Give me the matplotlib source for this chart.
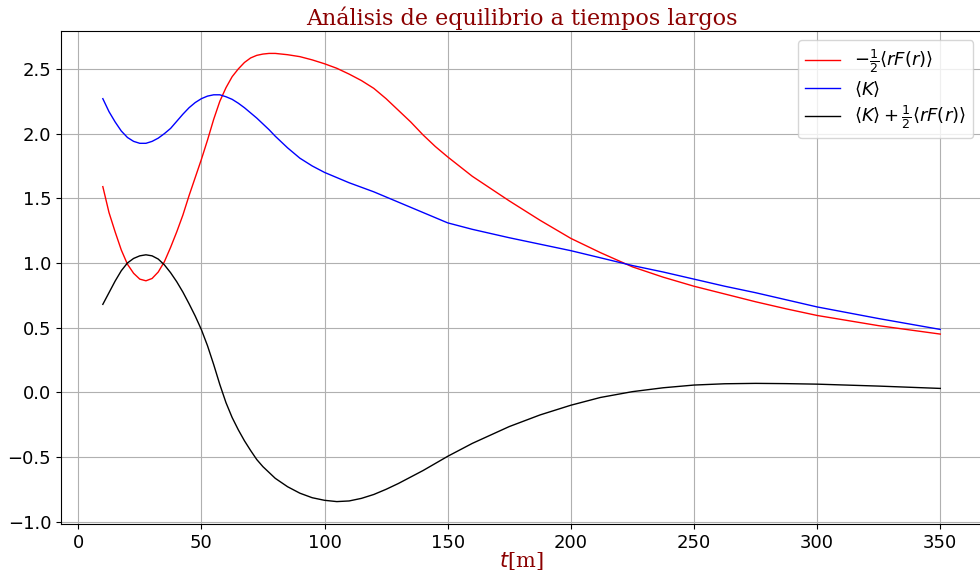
import matplotlib
matplotlib.use('Agg')
import matplotlib.pyplot as plt

# tiempo [m]
t = [10, 12.5, 15, 17.5, 20, 22.5, 25, 27.5, 30, 32.5, 35, 37.5, 40, 42.5,
     45, 47.5, 50, 52.5, 55, 57.5, 60, 62.5, 65, 67.5, 70, 72.5, 75, 77.5,
     80, 85, 90, 95, 100, 105, 110, 115, 120, 125, 130, 135, 140, 145, 150,
     160, 175, 187.5, 200, 212, 225, 237.5, 250, 262.5, 275, 287.5, 300,
     325, 350]

# -1/2 <r F(r)>
virial = [1.59, 1.39, 1.24, 1.10, 0.99, 0.92, 0.875, 0.862, 0.88, 0.93,
          1.01, 1.12, 1.24, 1.37, 1.52, 1.66, 1.80, 1.95, 2.11, 2.25, 2.355,
          2.44, 2.50, 2.55, 2.585, 2.605, 2.615, 2.62, 2.62, 2.61, 2.595,
          2.57, 2.54, 2.505, 2.46, 2.41, 2.35, 2.27, 2.18, 2.09, 1.99, 1.90,
          1.82, 1.67, 1.48, 1.33, 1.19, 1.08, 0.97, 0.89, 0.82, 0.76, 0.70,
          0.645, 0.594, 0.515, 0.45]

# <K>
kinetic = [2.27, 2.17, 2.09, 2.02, 1.97, 1.94, 1.925, 1.925, 1.94, 1.965,
           2.00, 2.04, 2.095, 2.15, 2.20, 2.24, 2.27, 2.29, 2.30, 2.30,
           2.285, 2.265, 2.235, 2.20, 2.16, 2.12, 2.075, 2.03, 1.98, 1.89,
           1.81, 1.75, 1.70, 1.66, 1.62, 1.585, 1.55, 1.51, 1.47, 1.43, 1.39,
           1.35, 1.31, 1.26, 1.195, 1.145, 1.095, 1.04, 0.98, 0.93, 0.875,
           0.82, 0.77, 0.715, 0.66, 0.57, 0.486]

# <K> + 1/2 <r F(r)>
balance = [0.68, 0.77, 0.86, 0.94, 1.00, 1.035, 1.055, 1.063, 1.055, 1.03,
           0.985, 0.925, 0.855, 0.775, 0.685, 0.59, 0.485, 0.36, 0.215, 0.06,
           -0.08, -0.195, -0.29, -0.375, -0.45, -0.52, -0.575, -0.62, -0.665,
           -0.73, -0.78, -0.815, -0.835, -0.845, -0.84, -0.82, -0.79, -0.75,
           -0.705, -0.655, -0.605, -0.55, -0.495, -0.395, -0.265, -0.175,
           -0.10, -0.04, 0.005, 0.035, 0.056, 0.066, 0.069, 0.067, 0.063,
           0.048, 0.03]

fig = plt.figure(figsize=(9.8, 5.71), dpi=100)
ax = fig.add_axes([0.0622, 0.0823, 0.940, 0.8634])

ax.plot(t, virial, color='red', lw=1.0, label=r'$-\frac{1}{2}\langle rF(r)\rangle$')
ax.plot(t, kinetic, color='blue', lw=1.0, label=r'$\langle K\rangle$')
ax.plot(t, balance, color='black', lw=1.0,
        label=r'$\langle K\rangle+\frac{1}{2}\langle rF(r)\rangle$')

ax.set_title('Análisis de equilibrio a tiempos largos', family='DejaVu Serif',
             color='darkred', fontsize=16, pad=4)
ax.set_xlabel(r'$t$[m]', family='DejaVu Serif', color='darkred', fontsize=15,
              labelpad=-1)
ax.set_yticks([-1.0, -0.5, 0.0, 0.5, 1.0, 1.5, 2.0, 2.5])
ax.tick_params(axis='both', labelsize=13)
ax.grid(True)
ax.legend(loc='upper right', fontsize=13, labelspacing=0.25, handlelength=1.9)

fig.savefig('out.png', dpi=100)
